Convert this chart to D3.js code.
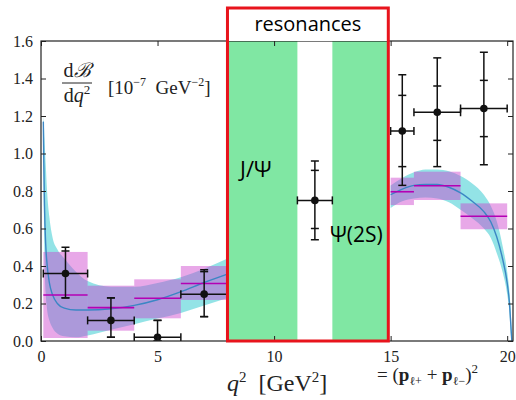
<!DOCTYPE html>
<html>
<head>
<meta charset="utf-8">
<script src="https://cdn.jsdelivr.net/npm/d3@7"></script>
<style>
  body { margin: 0; background: #fff; }
  .tick text { font-family: "Liberation Serif", serif; font-size: 16px; fill: #222; }
  .tick line { stroke: #222; }
</style>
</head>
<body>
<script>
// Measured bins (LHCb style), values in 1e-7 GeV^-2
var binLo = [0.1, 2, 4, 6, 11, 15, 16, 18];
var binHi = [2, 4, 6, 8, 12.5, 16, 18, 20];
var measX = [1.05, 3, 5, 7, 11.75, 15.5, 17, 19];
var measY = [0.36, 0.11, 0.02, 0.25, 0.75, 1.12, 1.22, 1.24];
var totUp = [0.14, 0.12, 0.09, 0.13, 0.21, 0.30, 0.29, 0.30];
var totDn = [0.13, 0.09, 0.02, 0.12, 0.21, 0.29, 0.29, 0.30];
var statUp = [0.12, 0.12, 0.09, 0.12, 0.16, 0.19, 0.14, 0.15];
var statDn = [0.13, 0.09, 0.02, 0.12, 0.15, 0.19, 0.15, 0.15];

// Binned SM prediction boxes
var smLo = [0.1, 2, 4, 6, 15, 16, 18];
var smHi = [2, 4, 6, 8, 16, 18, 20];
var smMid = [0.245, 0.178, 0.228, 0.307, 0.796, 0.828, 0.665];
var smMin = [0.016, 0.055, 0.121, 0.219, 0.725, 0.752, 0.596];
var smMax = [0.475, 0.295, 0.329, 0.40, 0.871, 0.903, 0.734];

// Continuous SM curve, low q2 part
var lowQ2 = [0.1, 0.12, 0.15, 0.2, 0.26, 0.36, 0.5, 0.7, 1.0, 1.5, 2, 3, 4, 5, 6, 7, 8];
var lowMid = [1.17, 0.95, 0.72, 0.52, 0.41, 0.31, 0.245, 0.20, 0.175, 0.165, 0.165, 0.172, 0.19, 0.22, 0.263, 0.312, 0.357];
var lowMax = [1.20, 1.17, 1.08, 0.95, 0.80, 0.66, 0.55, 0.49, 0.44, 0.37, 0.32, 0.29, 0.29, 0.31, 0.34, 0.385, 0.44];
var lowMin = [1.05, 0.72, 0.45, 0.26, 0.17, 0.11, 0.07, 0.04, 0.025, 0.02, 0.03, 0.06, 0.09, 0.12, 0.15, 0.19, 0.23];

// Continuous SM curve, high q2 part
var highQ2 = [15, 15.5, 16, 16.5, 17, 17.5, 18, 18.5, 19, 19.3, 19.55, 19.8, 20.0, 20.1, 20.16, 20.2];
var highMid = [0.78, 0.81, 0.83, 0.835, 0.835, 0.82, 0.79, 0.745, 0.69, 0.635, 0.556, 0.44, 0.31, 0.2, 0.08, 0.0];
var highMax = [0.83, 0.87, 0.90, 0.915, 0.915, 0.905, 0.88, 0.84, 0.78, 0.72, 0.64, 0.51, 0.37, 0.26, 0.14, 0.0];
var highMin = [0.71, 0.745, 0.76, 0.765, 0.76, 0.74, 0.70, 0.655, 0.60, 0.55, 0.47, 0.37, 0.25, 0.15, 0.03, 0.0];

// Charmonium vetoes and the annotated region
var vetoLo = [8, 12.5];
var vetoHi = [11, 14.9];
var boxRange = [8, 14.9];

var xTicks = [0, 5, 10, 15, 20];
var yTicks = [0, 0.2, 0.4, 0.6, 0.8, 1.0, 1.2, 1.4, 1.6];

var svgWidth = 516;
var svgHeight = 400;
var chartMargin = { top: 41, right: 3, bottom: 59, left: 41 };
var chartWidth = svgWidth - chartMargin.left - chartMargin.right;
var chartHeight = svgHeight - chartMargin.top - chartMargin.bottom;

var svg = d3.select("body")
  .append("svg")
  .attr("width", svgWidth)
  .attr("height", svgHeight);

var chartGroup = svg.append("g")
  .attr("transform", `translate(${chartMargin.left}, ${chartMargin.top})`);

var x = d3.scaleLinear().domain([0, 20.25]).range([0, chartWidth]);
var y = d3.scaleLinear().domain([0, 1.6]).range([chartHeight, 0]);

chartGroup.append("clipPath").attr("id", "plot")
  .append("rect").attr("width", chartWidth).attr("height", chartHeight);

var plot = chartGroup.append("g").attr("clip-path", "url(#plot)");

// green veto bands
plot.selectAll(".veto").data(vetoLo).enter().append("rect")
  .attr("x", d => x(d))
  .attr("width", (d, i) => x(vetoHi[i]) - x(d))
  .attr("y", 0)
  .attr("height", chartHeight)
  .attr("fill", "#80e7a3");

// theory bands
function bandOf(q, lo, hi) {
  return q.map((d, i) => ({ q: d, lo: lo[i], hi: hi[i] }));
}
var area = d3.area()
  .x(d => x(d.q))
  .y0(d => y(d.lo))
  .y1(d => y(d.hi))
  .curve(d3.curveMonotoneX);

[bandOf(lowQ2, lowMin, lowMax), bandOf(highQ2, highMin, highMax)].forEach(function(b) {
  plot.append("path")
    .attr("d", area(b))
    .attr("fill", "rgba(40, 200, 205, 0.5)");
});

// binned SM boxes
plot.selectAll(".smbox").data(smLo).enter().append("rect")
  .attr("x", d => x(d))
  .attr("width", (d, i) => x(smHi[i]) - x(d))
  .attr("y", (d, i) => y(smMax[i]))
  .attr("height", (d, i) => y(smMin[i]) - y(smMax[i]))
  .attr("fill", "rgba(204, 62, 204, 0.45)");

// central theory line
var line = d3.line()
  .x(d => x(d[0]))
  .y(d => y(d[1]))
  .curve(d3.curveMonotoneX);

[d3.zip(lowQ2, lowMid), d3.zip(highQ2, highMid)].forEach(function(c) {
  plot.append("path")
    .attr("d", line(c))
    .attr("fill", "none")
    .attr("stroke", "#3b86c4")
    .attr("stroke-width", 1.4);
});

plot.selectAll(".smline").data(smLo).enter().append("line")
  .attr("x1", d => x(d))
  .attr("x2", (d, i) => x(smHi[i]))
  .attr("y1", (d, i) => y(smMid[i]))
  .attr("y2", (d, i) => y(smMid[i]))
  .attr("stroke", "#b400b4")
  .attr("stroke-width", 1.6);

// data points with error bars
var pts = plot.selectAll(".pt").data(measX).enter().append("g")
  .attr("stroke", "#111")
  .attr("stroke-width", 1.5);

pts.append("line")
  .attr("x1", (d, i) => x(binLo[i])).attr("x2", (d, i) => x(binHi[i]))
  .attr("y1", (d, i) => y(measY[i])).attr("y2", (d, i) => y(measY[i]));
pts.append("line")
  .attr("x1", d => x(d)).attr("x2", d => x(d))
  .attr("y1", (d, i) => y(measY[i] + totUp[i]))
  .attr("y2", (d, i) => y(measY[i] - totDn[i]));

// caps: total and stat on y, bin edges on x
var capVals = [
  (i) => measY[i] + totUp[i], (i) => measY[i] - totDn[i],
  (i) => measY[i] + statUp[i], (i) => measY[i] - statDn[i]
];
capVals.forEach(function(f) {
  pts.append("line")
    .attr("x1", d => x(d) - 4).attr("x2", d => x(d) + 4)
    .attr("y1", (d, i) => y(f(i))).attr("y2", (d, i) => y(f(i)));
});
[binLo, binHi].forEach(function(edge) {
  pts.append("line")
    .attr("x1", (d, i) => x(edge[i])).attr("x2", (d, i) => x(edge[i]))
    .attr("y1", (d, i) => y(measY[i]) - 4).attr("y2", (d, i) => y(measY[i]) + 4);
});
pts.append("circle")
  .attr("cx", d => x(d))
  .attr("cy", (d, i) => y(measY[i]))
  .attr("r", 3.8)
  .attr("fill", "#111")
  .attr("stroke", "none");

// axes, ticks inward on all four sides
chartGroup.append("g")
  .call(d3.axisLeft(y).tickValues(yTicks).tickFormat(d3.format(".1f")).tickSize(-5).tickPadding(8))
  .call(g => g.select(".domain").remove());
chartGroup.append("g")
  .attr("transform", `translate(${chartWidth}, 0)`)
  .call(d3.axisRight(y).tickValues(yTicks).tickFormat("").tickSize(-5))
  .call(g => g.select(".domain").remove());
chartGroup.append("g")
  .attr("transform", `translate(0, ${chartHeight})`)
  .call(d3.axisBottom(x).tickValues(xTicks).tickSize(-5).tickPadding(10))
  .call(g => g.select(".domain").remove());
chartGroup.append("g")
  .call(d3.axisTop(x).tickValues(xTicks).tickFormat("").tickSize(-5))
  .call(g => g.select(".domain").remove());

chartGroup.append("rect")
  .attr("width", chartWidth).attr("height", chartHeight)
  .attr("fill", "none").attr("stroke", "#222").attr("stroke-width", 1.2);

// red "resonances" box
var bx0 = x(boxRange[0]), bx1 = x(boxRange[1]);
chartGroup.append("rect")
  .attr("x", bx0).attr("y", -33)
  .attr("width", bx1 - bx0).attr("height", 33)
  .attr("fill", "#fff");
chartGroup.append("rect")
  .attr("x", bx0).attr("y", -33)
  .attr("width", bx1 - bx0).attr("height", chartHeight + 33)
  .attr("fill", "none").attr("stroke", "#e8141c").attr("stroke-width", 3);
chartGroup.append("text")
  .attr("x", (bx0 + bx1) / 2).attr("y", -10)
  .attr("text-anchor", "middle")
  .style("font-family", "'Open Sans', sans-serif").style("font-size", "20px")
  .text("resonances");

var sans = "'Open Sans', sans-serif";
chartGroup.append("text")
  .attr("x", 199).attr("y", 136)
  .style("font-family", sans).style("font-size", "22px")
  .text("J/Ψ");
chartGroup.append("text")
  .attr("x", 289).attr("y", 201)
  .style("font-family", sans).style("font-size", "21px")
  .text("Ψ(2S)");

// y label as a fraction
var serif = "'Liberation Serif', serif";
var lab = svg.append("g").style("font-family", serif).attr("fill", "#222");
lab.append("text").attr("x", 77).attr("y", 77).attr("text-anchor", "middle")
  .style("font-size", "20px")
  .html("d<tspan font-family='DejaVu Serif' font-style='italic'>ℬ</tspan>");
lab.append("line").attr("x1", 62).attr("x2", 92).attr("y1", 83).attr("y2", 83)
  .attr("stroke", "#222").attr("stroke-width", 1);
lab.append("text").attr("x", 77).attr("y", 102).attr("text-anchor", "middle")
  .style("font-size", "20px")
  .html("d<tspan font-style='italic'>q</tspan><tspan dy='-8' font-size='13px'>2</tspan>");
lab.append("text").attr("x", 108).attr("y", 94)
  .style("font-size", "19px")
  .html("[10<tspan dy='-8' font-size='12px'>−7</tspan><tspan dy='8' xml:space='preserve'>  GeV</tspan><tspan dy='-8' font-size='12px'>−2</tspan><tspan dy='8'>]</tspan>");

// x label
lab.append("text").attr("x", 227).attr("y", 391)
  .style("font-size", "24px")
  .html("<tspan font-style='italic'>q</tspan><tspan dy='-9' font-size='15px'>2</tspan><tspan dy='9' xml:space='preserve'>  [GeV</tspan><tspan dy='-9' font-size='15px'>2</tspan><tspan dy='9'>]</tspan>");
lab.append("text").attr("x", 377).attr("y", 381)
  .style("font-size", "19px")
  .html("= (<tspan font-weight='bold'>p</tspan><tspan dy='4' font-size='12px'>ℓ+</tspan><tspan dy='-4'> + </tspan><tspan font-weight='bold'>p</tspan><tspan dy='4' font-size='12px'>ℓ−</tspan><tspan dy='-4'>)</tspan><tspan dy='-8' font-size='13px'>2</tspan>");
</script>
</body>
</html>
